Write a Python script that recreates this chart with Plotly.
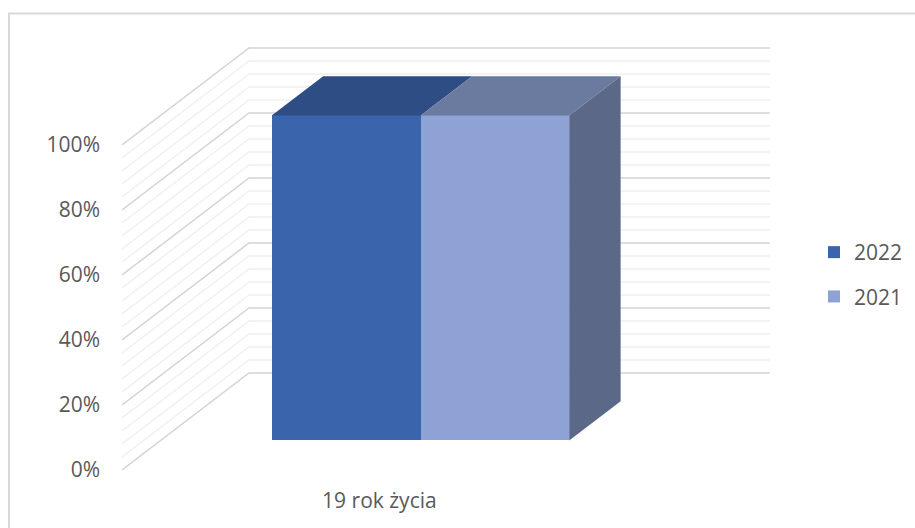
import plotly.graph_objects as go

categories = ["19 rok życia"]
series_names = ["2022", "2021"]
values_2022 = [100]
values_2021 = [100]
tick_values = [0, 20, 40, 60, 80, 100]
tick_labels = ["0%", "20%", "40%", "60%", "80%", "100%"]
minor_values = [v for v in range(0, 101, 4) if v % 20]

# oblique projection of the 3D box (axis units: width 0-1, value 0-100, depth 0-1)
DEPTH_X = 127 / 521
DEPTH_Y = 97 / 3.25
BAR_EDGES = [0.213, 0.499, 0.784]
D_FRONT, D_BACK = 0.305, 0.71

FRONT = ["#3A64AC", "#8FA2D5"]
TOP = ["#2E4D85", "#6B7BA0"]
SIDE = "#5B6888"


def proj(u, v, d):
    return u + DEPTH_X * d, v + DEPTH_Y * d


def face(points, color):
    xy = [proj(*p) for p in points]
    return go.Scatter(x=[p[0] for p in xy] + [xy[0][0]], y=[p[1] for p in xy] + [xy[0][1]],
                      mode="lines", fill="toself", fillcolor=color, line=dict(width=0),
                      showlegend=False, hoverinfo="skip")


fig = go.Figure()
shapes = []


def grid(v, color, width):
    pts = [proj(0, v, 0), proj(0, v, 1), proj(1, v, 1)]
    path = "M" + " L".join(f"{x:.5f},{y:.5f}" for x, y in pts)
    shapes.append(dict(type="path", path=path, xref="x", yref="y", layer="below",
                       line=dict(color=color, width=width)))


for v in minor_values:
    grid(v, "#F0F0F0", 1.5)
for v in tick_values:
    grid(v, "#D4D4D4", 1.5)

for i, (name, vals) in enumerate(zip(series_names, [values_2022, values_2021])):
    u0, u1 = BAR_EDGES[i], BAR_EDGES[i + 1]
    x0, base = proj(u0, 0, D_FRONT)
    x1, _ = proj(u1, 0, D_FRONT)
    fig.add_trace(go.Bar(x=[(x0 + x1) / 2], y=vals, base=[base], width=[x1 - x0], name=name,
                         legendgroup=name, marker=dict(color=FRONT[i], line=dict(width=0)),
                         hoverinfo="skip"))
    fig.add_trace(face([(u0, vals[0], D_FRONT), (u1, vals[0], D_FRONT),
                        (u1, vals[0], D_BACK), (u0, vals[0], D_BACK)], TOP[i]))

u_r = BAR_EDGES[-1]
v_r = values_2021[0]
fig.add_trace(face([(u_r, 0, D_FRONT), (u_r, 0, D_BACK), (u_r, v_r, D_BACK), (u_r, v_r, D_FRONT)], SIDE))

# chart frame (top and left edges only are visible in the page)
W, H = 915, 528
L, R, T, B = 122, 3, 20, 42
pw, ph = W - L - R, H - T - B
fx = lambda px: (px - L) / pw
fy = lambda py: 1 - (py - T) / ph
shapes.append(dict(type="path", xref="paper", yref="paper", layer="below",
                   path=f"M{fx(9)},{fy(540)} L{fx(9)},{fy(13.5)} L{fx(930)},{fy(13.5)}",
                   line=dict(color="#D9D9D9", width=2)))

FONT = "'Open Sans', Lato, sans-serif"
fig.update_layout(
    width=W, height=H, autosize=False,
    margin=dict(l=L, r=R, t=T, b=B, pad=0),
    paper_bgcolor="white", plot_bgcolor="rgba(0,0,0,0)",
    font=dict(family=FONT, size=21, color="#595959"),
    shapes=shapes, bargap=0, barmode="overlay",
    xaxis=dict(range=[0, pw / 521], showgrid=False, zeroline=False, showline=False,
               tickmode="array", tickvals=[0.494], ticktext=categories, ticks="", ticklabelstandoff=0),
    yaxis=dict(range=[-16 / 3.25, 450 / 3.25], showgrid=False, zeroline=False, showline=False,
               tickmode="array", tickvals=tick_values, ticktext=tick_labels, ticks="", ticklabelstandoff=21),
    legend=dict(x=fx(814), xanchor="left", y=fy(274.5), yanchor="middle", traceorder="grouped",
                tracegroupgap=14, bgcolor="rgba(0,0,0,0)", itemclick=False, itemdoubleclick=False),
)
fig.write_html("out.html", config={"displayModeBar": False},
               post_script="document.body.style.margin='0';")
